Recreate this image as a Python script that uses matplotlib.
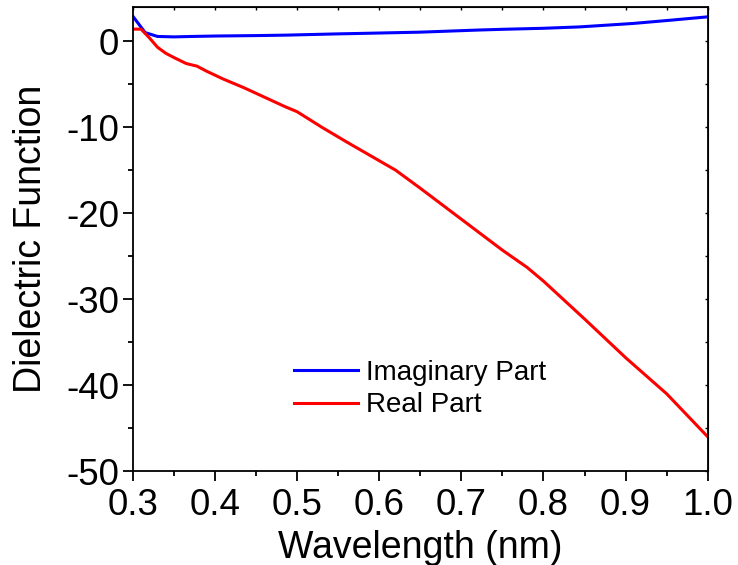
import numpy as np
import matplotlib
matplotlib.use('Agg')
import matplotlib.pyplot as plt
from matplotlib.ticker import MultipleLocator

plt.rcParams['font.family'] = ['Liberation Sans', 'DejaVu Sans']
plt.rcParams['axes.unicode_minus'] = False

# values
wlReal = [0.300, 0.310, 0.320, 0.330, 0.340, 0.350, 0.365, 0.378, 0.390, 0.410,
          0.435, 0.460, 0.485, 0.500, 0.530, 0.560, 0.600, 0.620, 0.650, 0.700,
          0.750, 0.780, 0.800, 0.850, 0.900, 0.950, 1.000]
epsReal = [1.4, 1.4, 0.4, -0.7, -1.4, -1.9, -2.6, -2.9, -3.5, -4.4,
           -5.4, -6.5, -7.6, -8.2, -10.0, -11.7, -13.9, -15.0, -17.1, -20.7,
           -24.3, -26.3, -27.9, -32.3, -36.8, -41.0, -46.0]

wlImag = [0.300, 0.315, 0.330, 0.350, 0.372, 0.400, 0.450, 0.485, 0.550, 0.576,
          0.650, 0.722, 0.750, 0.800, 0.844, 0.909, 0.950, 1.000]
epsImag = [2.9, 1.0, 0.55, 0.5, 0.55, 0.6, 0.65, 0.7, 0.85, 0.9,
           1.05, 1.3, 1.38, 1.5, 1.66, 2.06, 2.4, 2.83]

fig = plt.figure(figsize=(7.38, 5.65), dpi=100)
ax = fig.add_axes([0.180, 0.166, 0.779, 0.822])

ax.plot(wlImag, epsImag, color='#0000ff', lw=2.2, label='Imaginary Part')
ax.plot(wlReal, epsReal, color='#ff0000', lw=2.2, label='Real Part')

ax.set_xlim(0.3, 1.0)
ax.set_ylim(-50, 4)
ax.xaxis.set_major_locator(MultipleLocator(0.1))
ax.xaxis.set_minor_locator(MultipleLocator(0.05))
ax.yaxis.set_major_locator(MultipleLocator(10))
ax.yaxis.set_minor_locator(MultipleLocator(5))
ax.xaxis.set_major_formatter(matplotlib.ticker.FormatStrFormatter('%.1f'))

for s in ax.spines.values():
    s.set_linewidth(1.3)

ax.tick_params(which='major', direction='out', length=7, width=1.3, labelsize=26.5)
ax.tick_params(which='minor', direction='out', length=3.5, width=1.3)
ax.tick_params(axis='x', which='major', pad=5)
ax.tick_params(axis='y', which='major', pad=3)

# inward ticks on top and right, like Origin
ax2 = ax.secondary_xaxis('top')
ax2.xaxis.set_major_locator(MultipleLocator(0.1))
ax2.xaxis.set_minor_locator(MultipleLocator(0.05))
ax2.tick_params(which='both', direction='in', length=2.5, width=1.0, labeltop=False)
ax3 = ax.secondary_yaxis('right')
ax3.yaxis.set_major_locator(MultipleLocator(10))
ax3.yaxis.set_minor_locator(MultipleLocator(5))
ax3.tick_params(which='both', direction='in', length=2.5, width=1.0, labelright=False)

ax.set_xlabel('Wavelength (nm)', fontsize=27, labelpad=5)
ax.set_ylabel('Dielectric Function', fontsize=27, labelpad=12)

ax.legend(loc='center left', bbox_to_anchor=(0.28, 0.177), frameon=False,
          fontsize=20, handlelength=2.3, handletextpad=0.3, labelspacing=0.25,
          borderpad=0, borderaxespad=0)

fig.savefig('out.png', dpi=100)
